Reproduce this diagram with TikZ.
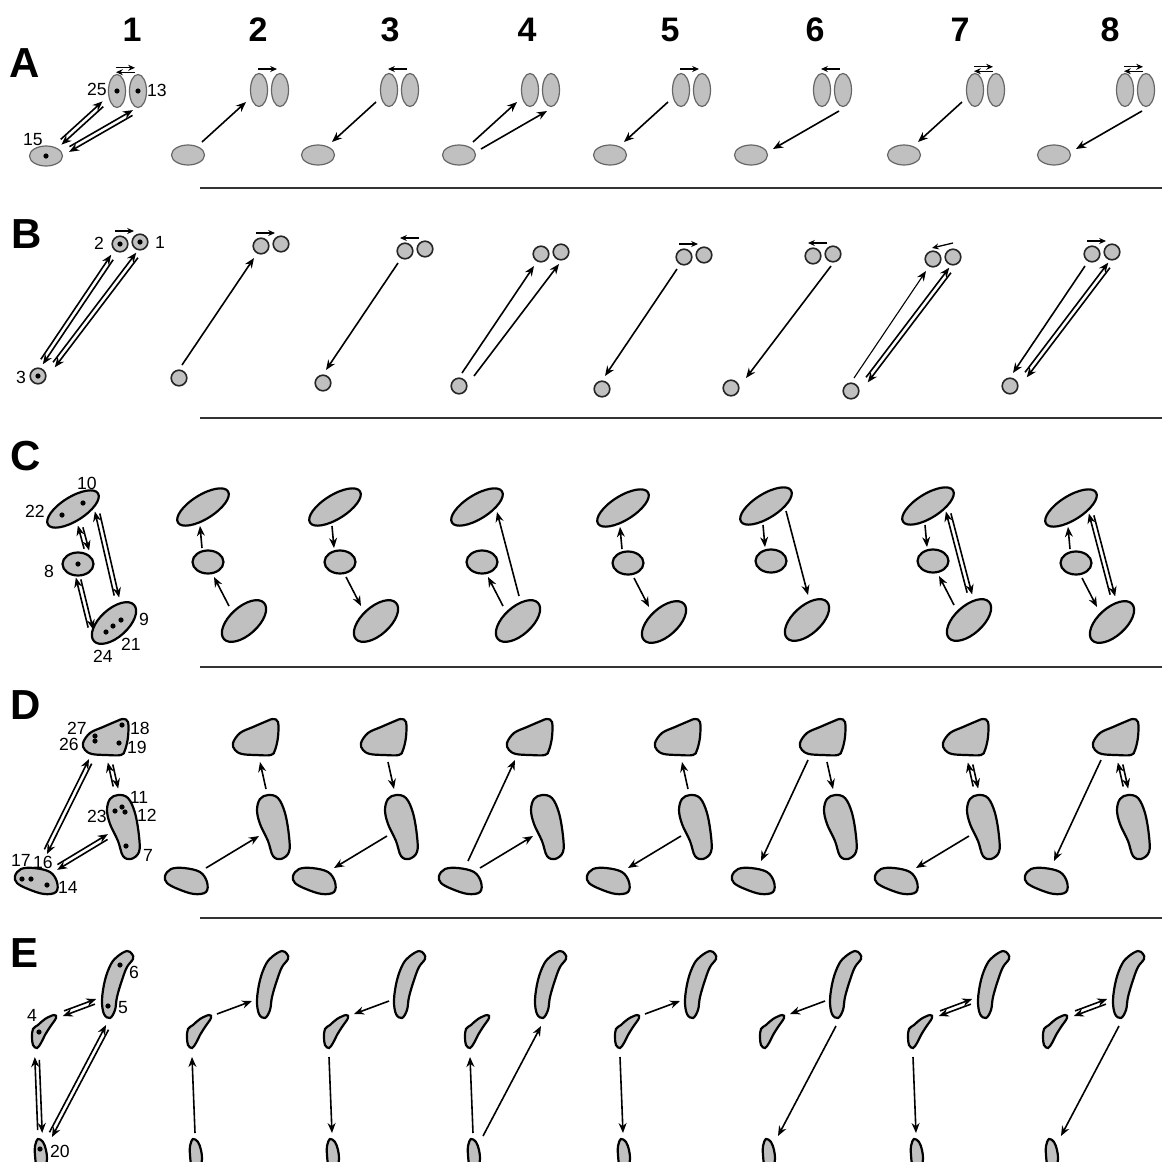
\documentclass[tikz,border=0pt]{standalone}
\usepackage{fontspec}
\setmainfont{Liberation Sans}
\usetikzlibrary{arrows.meta,calc,positioning,shapes.geometric}
\definecolor{cellgray}{RGB}{192,192,192}

\tikzset{
  oval/.style={ellipse, draw=black, fill=cellgray, line width=1.1pt, inner sep=0pt},
  ovalA/.style={oval, draw=black!60, line width=0.6pt},
  ball/.style={circle, draw=black!85, fill=cellgray, line width=0.8pt, inner sep=0pt, minimum size=7.8pt},
  blob/.style={draw=black, fill=cellgray, line width=1.1pt},
  spot/.style={circle, fill=black, inner sep=0pt, minimum size=2.6pt},
  num/.style={font=\fontsize{8.8}{10}\selectfont, inner sep=0pt},
  colhead/.style={font=\fontsize{17}{19}\selectfont\bfseries, inner sep=0pt},
  rowhead/.style={font=\fontsize{21}{23}\selectfont\bfseries, inner sep=0pt},
  rule/.style={line width=0.8pt, black!80},
  arr/.style={-{Stealth[length=5pt,width=4pt]}, line width=0.8pt},
  thin arr/.style={arr, line width=0.55pt},
  small arr/.style={-{Stealth[length=3.4pt,width=3pt]}, line width=0.65pt},
  pair/.style={arr, shorten <=1.5pt},
}

% two opposite arrows side by side
\newcommand{\twoway}[3][pair]{%
  \draw[#1] ($(#2)!1.1pt!90:(#3)$) -- ($(#3)!1.1pt!-90:(#2)$);
  \draw[#1] ($(#3)!1.1pt!90:(#2)$) -- ($(#2)!1.1pt!-90:(#3)$);}

% row A: one flat oval, two upright ovals
\newcommand{\rowA}[2]{%
  \begin{scope}[shift={(#2)}]
    \node[ovalA, minimum width=16.5pt, minimum height=10pt] (A#1b) at (46,156) {};
    \node[ovalA, minimum width=8.5pt, minimum height=16.5pt] (A#1l) at (117,91) {};
    \node[ovalA, minimum width=8.5pt, minimum height=16.5pt] (A#1r) at (138,91) {};
    \coordinate (A#1pb) at (60,143);
    \coordinate (A#1pl) at (104,103);
    \coordinate (A#1qb) at (68,150);
    \coordinate (A#1qr) at (134,112);
    \coordinate (A#1s) at (116,70);
    \coordinate (A#1t) at (135,70);
  \end{scope}}

% row B: three small circles
\newcommand{\rowB}[2]{%
  \begin{scope}[shift={(#2)}]
    \node[ball] (B#1o3) at (38,376) {};
    \node[ball] (B#1o2) at (120,244) {};
    \node[ball] (B#1o1) at (140,242) {};
    \coordinate (B#1p3) at (41,363);
    \coordinate (B#1p2) at (113,256);
    \coordinate (B#1q3) at (53,366);
    \coordinate (B#1q1) at (138,254);
    \coordinate (B#1s) at (115,231);
    \coordinate (B#1t) at (134,231);
    \coordinate (B#1u) at (140,228);
    \coordinate (B#1v) at (119,233);
  \end{scope}}

% row C: tilted oval, small oval, tilted oval
\newcommand{\rowC}[2]{%
  \begin{scope}[shift={(#2)}]
    \node[oval, minimum width=29.5pt, minimum height=12pt, rotate=32] (C#1t) at (73,509) {};
    \node[oval, minimum width=15.5pt, minimum height=11.5pt] (C#1m) at (78,564) {};
    \node[oval, minimum width=27pt, minimum height=14pt, rotate=42] (C#1b) at (114,623) {};
    \coordinate (C#1tm) at (70,528);
    \coordinate (C#1mt) at (72,550);
    \coordinate (C#1mb) at (84,579);
    \coordinate (C#1bm) at (99,608);
    \coordinate (C#1tb) at (93,514);
    \coordinate (C#1bt) at (115,598);
  \end{scope}}

% row D: rounded triangle, bean, flat bean
\newcommand{\rowD}[2]{%
  \begin{scope}[shift={(#2)}]
    \draw[blob] plot[smooth cycle, tension=0.6] coordinates {(83,743) (90,733) (103,727) (117,721) (123,719) (128,722) (128,737) (125,750) (121,755) (106,755) (92,754) (85,750)};
    \draw[blob] plot[smooth cycle, tension=0.6] coordinates {(118,795) (128,798) (135,813) (139,836) (139,852) (131,859) (123,856) (118,841) (110,824) (107,810) (110,799)};
    \draw[blob] plot[smooth cycle, tension=0.6] coordinates {(15,876) (21,869) (34,868) (50,872) (57,882) (56,892) (44,894) (28,889) (17,883)};
    \coordinate (D#1t1) at (110,762);
    \coordinate (D#1m1) at (116,789);
    \coordinate (D#1t2) at (91,760);
    \coordinate (D#1b2) at (44,861);
    \coordinate (D#1b3) at (56,868);
    \coordinate (D#1m3) at (109,836);
  \end{scope}}

% row E: hooked rod, small blob, tiny blob
\newcommand{\rowE}[2]{%
  \begin{scope}[shift={(#2)}]
    \draw[blob] plot[smooth cycle, tension=0.6] coordinates {(127,951) (132,954) (133,959) (127,967) (122,980) (117,997) (115,1010) (110,1018) (104,1014) (102,1000) (105,980) (111,964) (118,956)};
    \draw[blob] plot[smooth cycle, tension=0.6] coordinates {(54,1015) (56,1018) (50,1027) (45,1035) (41,1043) (37,1048) (33,1045) (32,1037) (33,1029) (38,1025) (45,1019)};
    \draw[blob] plot[smooth cycle, tension=0.6] coordinates {(38,1139) (43,1142) (46,1150) (47,1159) (45,1166) (37,1166) (35,1155) (35,1146)};
    \coordinate (E#1s1) at (62,1014);
    \coordinate (E#1t1) at (97,1001);
    \coordinate (E#1s2) at (37,1057);
    \coordinate (E#1y2) at (40,1133);
    \coordinate (E#1y3) at (50,1136);
    \coordinate (E#1t3) at (108,1026);
  \end{scope}}

\begin{document}
\begin{tikzpicture}[x=0.5pt, y=-0.5pt]
  \useasboundingbox (0,0) rectangle (1162,1162);
  \clip (0,0) rectangle (1162,1162);

  % headings
  \foreach \n/\x in {1/132,2/258,3/390,4/527,5/670,6/815,7/960,8/1110}
    \node[colhead] (h\n) at (\x,30) {\n};
  \node[rowhead] (rA) at (25,63) {A};
  \node[rowhead] (rB) at (27,234) {B};
  \node[rowhead] (rC) at (26,456) {C};
  \node[rowhead] (rD) at (26,705) {D};
  \node[rowhead] (rE) at (25,953) {E};
  \foreach \y in {188,418,667,918}
    \draw[rule] (200,\y) -- (1162,\y);

  % shapes of every column
  \foreach \cc/\sx/\sy in {1/0/0,2/142/-1,3/272/-1,4/413/-1,5/564/-1,6/705/-1,7/858/-1,8/1008/-1}
    {\rowA{\cc}{\sx,\sy}}
  \foreach \cc/\sx/\sy in {1/0/0,2/141/2,3/285/7,4/421/10,5/564/13,6/693/12,7/813/15,8/972/10}
    {\rowB{\cc}{\sx,\sy}}
  \foreach \cc/\sx/\sy in {1/0/0,2/130/-2,3/262/-2,4/404/-2,5/550/-1,6/693/-3,7/855/-3,8/998/-1}
    {\rowC{\cc}{\sx,\sy}}
  \foreach \cc/\sx in {1/0,2/150,3/278,4/424,5/572,6/717,7/860,8/1010}
    {\rowD{\cc}{\sx,0}}
  \foreach \cc/\sx in {1/0,2/155,3/292,4/433,5/583,6/728,7/876,8/1011}
    {\rowE{\cc}{\sx,0}}

  % column 1: dots and numbers
  \node[spot] (s25) at (A1l) {};
  \node[spot] (s13) at (A1r) {};
  \node[spot] (s15) at (A1b) {};
  \node[num] (n25) at (97,89) {25};
  \node[num] (n13) at (157,90) {13};
  \node[num] (n15) at (33,140) {15};

  \node[spot] (s3) at (B1o3) {};
  \node[spot] (s2) at (B1o2) {};
  \node[spot] (s1) at (B1o1) {};
  \node[num] (n2) at (99,243) {2};
  \node[num] (n1) at (160,242) {1};
  \node[num] (n3) at (21,377) {3};

  \node[spot] (s22) at (62,515) {};
  \node[spot] (s10) at (83,503) {};
  \node[spot] (s8) at (C1m) {};
  \node[spot] (s24) at (106,632) {};
  \node[spot] (s21) at (113,626) {};
  \node[spot] (s9) at (121,620) {};
  \node[num] (n10) at (87,483) {10};
  \node[num] (n22) at (35,511) {22};
  \node[num] (n8) at (49,571) {8};
  \node[num] (n9) at (144,619) {9};
  \node[num] (n21) at (131,644) {21};
  \node[num] (n24) at (103,656) {24};

  \node[spot] (s27) at (95,736) {};
  \node[spot] (s26) at (95,741) {};
  \node[spot] (s18) at (122,725) {};
  \node[spot] (s19) at (119,743) {};
  \node[spot] (s11) at (122,807) {};
  \node[spot] (s23) at (115,811) {};
  \node[spot] (s12) at (125,812) {};
  \node[spot] (s7) at (126,846) {};
  \node[spot] (s17) at (22,879) {};
  \node[spot] (s16) at (31,879) {};
  \node[spot] (s14) at (47,885) {};
  \node[num] (n27) at (77,728) {27};
  \node[num] (n26) at (69,744) {26};
  \node[num] (n18) at (140,728) {18};
  \node[num] (n19) at (137,747) {19};
  \node[num] (n11) at (139,797) {11};
  \node[num] (n12) at (147,815) {12};
  \node[num] (n23) at (97,816) {23};
  \node[num] (n7) at (148,855) {7};
  \node[num] (n17) at (21,860) {17};
  \node[num] (n16) at (43,862) {16};
  \node[num] (n14) at (68,887) {14};

  \node[spot] (s6) at (120,965) {};
  \node[spot] (s5) at (108,1006) {};
  \node[spot] (s4) at (39,1032) {};
  \node[spot] (s20) at (40,1149) {};
  \node[num] (n6) at (134,972) {6};
  \node[num] (n5) at (123,1008) {5};
  \node[num] (n4) at (32,1015) {4};
  \node[num] (n20) at (60,1151) {20};

  % row A
  \twoway{A1pb}{A1pl}
  \twoway{A1qb}{A1qr}
  \twoway[small arr]{A1s}{A1t}
  \draw[arr] (A2pb) -- (A2pl);
  \draw[small arr] (A2s) -- (A2t);
  \draw[arr] (A3pl) -- (A3pb);
  \draw[small arr] (A3t) -- (A3s);
  \draw[arr] (A4pb) -- (A4pl);
  \draw[arr] (A4qb) -- (A4qr);
  \draw[arr] (A5pl) -- (A5pb);
  \draw[small arr] (A5s) -- (A5t);
  \draw[arr] (A6qr) -- (A6qb);
  \draw[small arr] (A6t) -- (A6s);
  \draw[arr] (A7pl) -- (A7pb);
  \twoway[small arr]{A7s}{A7t}
  \draw[arr] (A8qr) -- (A8qb);
  \twoway[small arr]{A8s}{A8t}

  % row B
  \twoway{B1p3}{B1p2}
  \twoway{B1q3}{B1q1}
  \draw[small arr] (B1s) -- (B1t);
  \draw[arr] (B2p3) -- (B2p2);
  \draw[small arr] (B2s) -- (B2t);
  \draw[arr] (B3p2) -- (B3p3);
  \draw[small arr] (B3t) -- (B3s);
  \draw[arr] (B4p3) -- (B4p2);
  \draw[arr] (B4q3) -- (B4q1);
  \draw[arr] (B5p2) -- (B5p3);
  \draw[small arr] (B5s) -- (B5t);
  \draw[arr] (B6q1) -- (B6q3);
  \draw[small arr] (B6t) -- (B6s);
  \draw[thin arr] (B7p3) -- (B7p2);
  \twoway{B7q3}{B7q1}
  \draw[small arr] (B7u) -- (B7v);
  \draw[arr] (B8p2) -- (B8p3);
  \twoway{B8q3}{B8q1}
  \draw[small arr] (B8s) -- (B8t);

  % row C
  \coordinate (C1xt) at (80,525);
  \coordinate (C1xm) at (87,551);
  \coordinate (C1ym) at (78,577);
  \coordinate (C1yb) at (91,630);
  \coordinate (C1zt) at (97,511);
  \coordinate (C1zb) at (117,598);
  \twoway{C1xt}{C1xm}
  \twoway{C1ym}{C1yb}
  \twoway{C1zt}{C1zb}
  \draw[arr] (C2bm) -- (C2mb);
  \draw[arr] (C2mt) -- (C2tm);
  \draw[arr] (C3tm) -- (C3mt);
  \draw[arr] (C3mb) -- (C3bm);
  \draw[arr] (C4bm) -- (C4mb);
  \draw[arr] (C4bt) -- (C4tb);
  \draw[arr] (C5mt) -- (C5tm);
  \draw[arr] (C5mb) -- (C5bm);
  \draw[arr] (C6tm) -- (C6mt);
  \draw[arr] (C6tb) -- (C6bt);
  \draw[arr] (C7tm) -- (C7mt);
  \draw[arr] (C7bm) -- (C7mb);
  \twoway{C7tb}{C7bt}
  \draw[arr] (C8mt) -- (C8tm);
  \draw[arr] (C8mb) -- (C8bm);
  \twoway{C8tb}{C8bt}

  % row D
  \coordinate (D1x) at (45,853);
  \twoway{D1t1}{D1m1}
  \twoway{D1x}{D1t2}
  \twoway{D1b3}{D1m3}
  \draw[arr] (D2b3) -- (D2m3);
  \draw[arr] (D2m1) -- (D2t1);
  \draw[arr] (D3t1) -- (D3m1);
  \draw[arr] (D3m3) -- (D3b3);
  \draw[arr] (D4b2) -- (D4t2);
  \draw[arr] (D4b3) -- (D4m3);
  \draw[arr] (D5m1) -- (D5t1);
  \draw[arr] (D5m3) -- (D5b3);
  \draw[arr] (D6t1) -- (D6m1);
  \draw[arr] (D6t2) -- (D6b2);
  \twoway{D7t1}{D7m1}
  \draw[arr] (D7m3) -- (D7b3);
  \draw[arr] (D8t2) -- (D8b2);
  \twoway{D8t1}{D8m1}

  % row E
  \twoway{E1s1}{E1t1}
  \twoway{E1s2}{E1y2}
  \twoway{E1y3}{E1t3}
  \draw[arr] (E2s1) -- (E2t1);
  \draw[arr] (E2y2) -- (E2s2);
  \draw[arr] (E3t1) -- (E3s1);
  \draw[arr] (E3s2) -- (E3y2);
  \draw[arr] (E4y2) -- (E4s2);
  \draw[arr] (E4y3) -- (E4t3);
  \draw[arr] (E5s1) -- (E5t1);
  \draw[arr] (E5s2) -- (E5y2);
  \draw[arr] (E6t1) -- (E6s1);
  \draw[arr] (E6t3) -- (E6y3);
  \twoway{E7s1}{E7t1}
  \draw[arr] (E7s2) -- (E7y2);
  \twoway{E8s1}{E8t1}
  \draw[arr] (E8t3) -- (E8y3);
\end{tikzpicture}
\end{document}
